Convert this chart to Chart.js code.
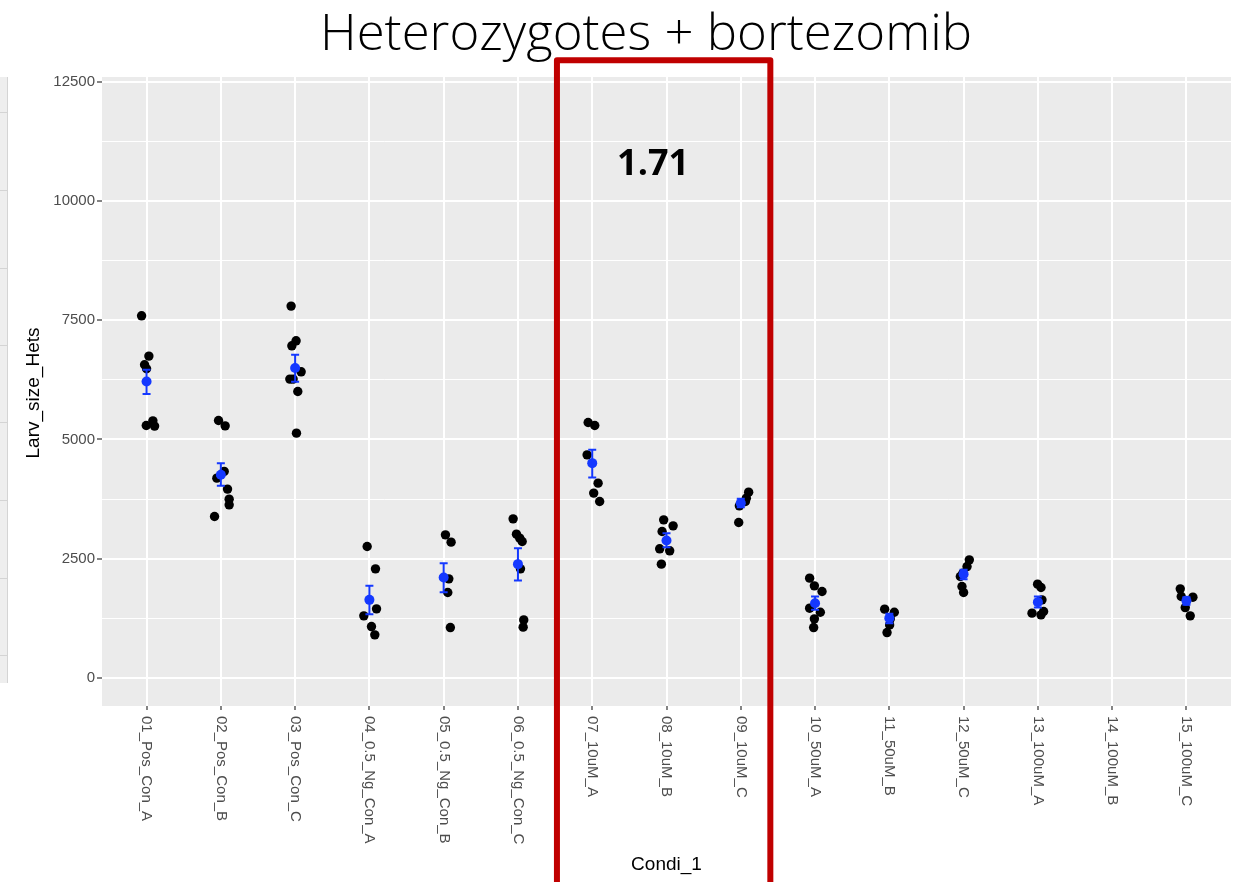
<!DOCTYPE html>
<html>
<head>
<meta charset="utf-8">
<script src="https://cdn.jsdelivr.net/npm/chart.js@4"></script>
<style>
  html, body { margin: 0; padding: 0; background: #fff; }
  canvas { display: block; }
</style>
</head>
<body>
<canvas id="larv-chart" width="1244" height="882"></canvas>
<script>
// conditions on the x axis
const conditions = [
  '01_Pos_Con_A', '02_Pos_Con_B', '03_Pos_Con_C',
  '04_0.5_Ng_Con_A', '05_0.5_Ng_Con_B', '06_0.5_Ng_Con_C',
  '07_10uM_A', '08_10uM_B', '09_10uM_C',
  '10_50uM_A', '11_50uM_B', '12_50uM_C',
  '13_100uM_A', '14_100uM_B', '15_100uM_C'
];

// larval size per larva, one list per condition
const larvSize = [
  [7592, 6747, 6565, 6481, 5291, 5390, 5279],
  [5397, 5285, 4330, 4188, 3958, 3748, 3628, 3383],
  [7796, 7068, 6963, 6418, 6265, 6265, 6005, 5132],
  [2754, 2286, 1447, 1300, 1076, 902],
  [2999, 2846, 2076, 1789, 1055],
  [3335, 3013, 2930, 2859, 2286, 1216, 1063],
  [5355, 5291, 4677, 4083, 3874, 3698],
  [3314, 3188, 3069, 2706, 2664, 2385],
  [3894, 3769, 3698, 3607, 3257],
  [2091, 1930, 1810, 1461, 1377, 1237, 1055],
  [1441, 1377, 1237, 1111, 950],
  [2475, 2334, 2196, 2125, 1915, 1789],
  [1965, 1894, 1636, 1357, 1321, 1391],
  [],
  [1867, 1706, 1692, 1474, 1300]
];

// horizontal jitter of each larva (in category units)
const jitter = [
  [-0.067, 0.031, -0.027, 0.0, -0.004, 0.085, 0.108],
  [-0.031, 0.058, 0.045, -0.054, 0.09, 0.112, 0.112, -0.085],
  [-0.054, 0.013, -0.044, 0.081, -0.071, -0.027, 0.036, 0.018],
  [-0.03, 0.082, 0.096, -0.075, 0.028, 0.073],
  [0.024, 0.1, 0.069, 0.055, 0.09],
  [-0.065, -0.02, 0.024, 0.057, 0.034, 0.078, 0.07],
  [-0.055, 0.034, -0.069, 0.079, 0.02, 0.1],
  [-0.038, 0.089, -0.059, -0.092, 0.043, -0.069],
  [0.106, 0.075, 0.062, -0.019, -0.028],
  [-0.073, -0.009, 0.094, -0.073, 0.071, -0.009, -0.019],
  [-0.063, 0.067, 0.013, 0.004, -0.031],
  [0.077, 0.046, -0.008, -0.044, -0.022, 0.0],
  [-0.004, 0.042, 0.055, -0.079, 0.042, 0.077],
  [],
  [-0.083, -0.07, 0.087, -0.016, 0.051]
];

// group means and error bar ends
const meanSize = [6214, 4258, 6496, 1636, 2104, 2385, 4503, 2880, 3664, 1566, 1252, 2175, 1588, null, 1615];
const errHigh = [6460, 4503, 6774, 1930, 2405, 2720, 4782, 3035, 3754, 1706, 1342, 2265, 1706, null, 1692];
const errLow = [5950, 4027, 6208, 1336, 1797, 2041, 4201, 2741, 3580, 1426, 1147, 2070, 1474, null, 1531];

// y ticks (labels only on the major ones)
const yTicks = [0, 1250, 2500, 3750, 5000, 6250, 7500, 8750, 10000, 11250, 12500];
const yLabelStep = 2500;

const BLUE = '#1438ff';
const RED = '#c00000';

const rawPoints = [];
larvSize.forEach((vals, i) => {
  vals.forEach((v, j) => rawPoints.push({ x: i + 1 + jitter[i][j], y: v }));
});
const meanPoints = [];
meanSize.forEach((m, i) => {
  if (m !== null) meanPoints.push({ x: i + 1, y: m });
});

const isMajor = v => v % yLabelStep === 0;

const panelBg = {
  id: 'panelBg',
  beforeDraw(chart) {
    const { ctx, chartArea: a } = chart;
    ctx.save();
    ctx.fillStyle = '#fff';
    ctx.fillRect(0, 0, chart.width, chart.height);
    // leftover edge of the slide
    ctx.fillStyle = '#eeeeee';
    ctx.fillRect(0, a.top, 7, 606);
    ctx.strokeStyle = '#d4d4d4';
    ctx.lineWidth = 1;
    ctx.beginPath();
    ctx.moveTo(7.5, a.top);
    ctx.lineTo(7.5, a.top + 606);
    [112, 190, 268, 345, 422, 500, 578, 655].forEach(y => {
      ctx.moveTo(0, y + 0.5);
      ctx.lineTo(7, y + 0.5);
    });
    ctx.stroke();
    ctx.fillStyle = '#ebebeb';
    ctx.fillRect(a.left, a.top, a.right - a.left, a.bottom - a.top);
    ctx.restore();
  }
};

const errorBars = {
  id: 'errorBars',
  afterDatasetDraw(chart, args) {
    if (args.index !== 1) return;
    const { ctx, scales: { x, y } } = chart;
    ctx.save();
    ctx.strokeStyle = BLUE;
    ctx.lineWidth = 2;
    meanSize.forEach((m, i) => {
      if (m === null) return;
      const px = x.getPixelForValue(i + 1);
      const top = y.getPixelForValue(errHigh[i]);
      const bot = y.getPixelForValue(errLow[i]);
      ctx.beginPath();
      ctx.moveTo(px, top);
      ctx.lineTo(px, bot);
      ctx.moveTo(px - 4, top);
      ctx.lineTo(px + 4, top);
      ctx.moveTo(px - 4, bot);
      ctx.lineTo(px + 4, bot);
      ctx.stroke();
    });
    ctx.restore();
  }
};

const annotations = {
  id: 'annotations',
  afterDraw(chart) {
    const { ctx, chartArea: a, scales: { x, y } } = chart;
    ctx.save();

    // x tick labels, reading downwards
    ctx.fillStyle = '#4d4d4d';
    ctx.font = '15px "Liberation Sans", Arial, sans-serif';
    ctx.textAlign = 'left';
    ctx.textBaseline = 'middle';
    conditions.forEach((c, i) => {
      ctx.save();
      ctx.translate(x.getPixelForValue(i + 1), a.bottom + 10);
      ctx.rotate(Math.PI / 2);
      ctx.fillText(c, 0, 0);
      ctx.restore();
    });

    // axis titles
    ctx.fillStyle = '#000';
    ctx.font = '19px "Liberation Sans", Arial, sans-serif';
    ctx.textAlign = 'center';
    ctx.textBaseline = 'alphabetic';
    ctx.fillText('Condi_1', x.getPixelForValue(8), 870);
    ctx.save();
    ctx.translate(39, 393);
    ctx.rotate(-Math.PI / 2);
    ctx.fillText('Larv_size_Hets', 0, 0);
    ctx.restore();

    // main title
    ctx.font = '300 50px "Open Sans", sans-serif';
    const title = 'Heterozygotes + bortezomib';
    const w = ctx.measureText(title).width;
    ctx.save();
    ctx.translate(646, 50);
    ctx.scale(652 / w, 1);
    ctx.fillText(title, 0, 0);
    ctx.restore();

    // highlight box around the 10uM group
    const left = x.getPixelForValue(6.525);
    const right = x.getPixelForValue(9.398);
    const top = y.getPixelForValue(12950);
    ctx.strokeStyle = RED;
    ctx.lineWidth = 6;
    ctx.lineJoin = 'round';
    ctx.beginPath();
    ctx.moveTo(left, chart.height + 10);
    ctx.lineTo(left, top);
    ctx.lineTo(right, top);
    ctx.lineTo(right, chart.height + 10);
    ctx.stroke();

    ctx.fillStyle = '#000';
    ctx.font = 'bold 36px "Open Sans", sans-serif';
    ctx.textBaseline = 'middle';
    ctx.fillText('1.71', x.getPixelForValue(7.82), y.getPixelForValue(10760));
    ctx.restore();
  }
};

new Chart(document.getElementById('larv-chart'), {
  type: 'scatter',
  data: {
    datasets: [
      {
        label: 'mean',
        data: meanPoints,
        backgroundColor: BLUE,
        borderColor: BLUE,
        borderWidth: 0,
        pointRadius: 5,
        order: 0
      },
      {
        label: 'larvae',
        data: rawPoints,
        backgroundColor: '#000',
        borderColor: '#000',
        borderWidth: 0,
        pointRadius: 4.7,
        order: 1
      }
    ]
  },
  options: {
    responsive: false,
    animation: false,
    events: [],
    layout: { padding: { left: 0, right: 13, top: 77, bottom: 0 } },
    plugins: {
      legend: { display: false },
      tooltip: { enabled: false }
    },
    scales: {
      x: {
        type: 'linear',
        min: 0.4,
        max: 15.6,
        afterBuildTicks: s => { s.ticks = conditions.map((c, i) => ({ value: i + 1 })); },
        afterFit: s => { s.height = 176; },
        border: { display: false },
        grid: { color: '#fff', lineWidth: 2, tickLength: 4, tickColor: '#333', tickWidth: 1.2 },
        ticks: { callback: () => '', autoSkip: false, maxRotation: 0 }
      },
      y: {
        min: -590,
        max: 12600,
        afterBuildTicks: s => { s.ticks = yTicks.map(v => ({ value: v })); },
        afterFit: s => { s.width = 102; },
        border: { display: false },
        grid: {
          color: '#fff',
          lineWidth: c => (c.tick && !isMajor(c.tick.value) ? 1 : 2),
          tickColor: c => (c.tick && !isMajor(c.tick.value) ? 'rgba(0,0,0,0)' : '#333'),
          tickWidth: 1.2,
          tickLength: 5
        },
        ticks: {
          autoSkip: false,
          padding: 2,
          color: '#4d4d4d',
          font: { family: '"Liberation Sans", Arial, sans-serif', size: 15 },
          callback: v => (isMajor(v) ? String(v) : '')
        }
      }
    }
  },
  plugins: [panelBg, errorBars, annotations]
});
</script>
</body>
</html>
